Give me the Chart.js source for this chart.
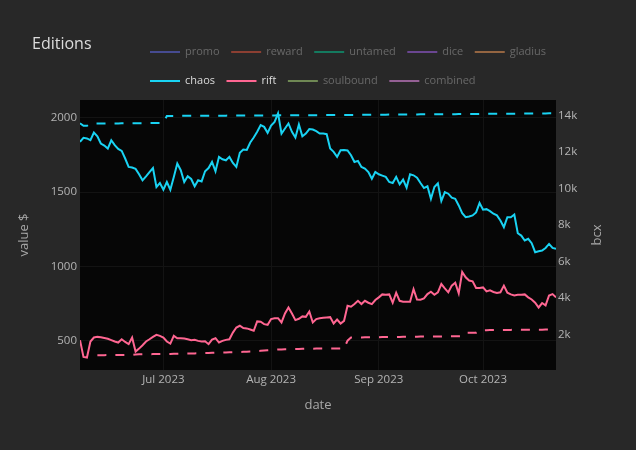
<!DOCTYPE html>
<html>
<head>
<meta charset="utf-8">
<script src="https://cdn.jsdelivr.net/npm/chart.js@4.4.0/dist/chart.umd.min.js"></script>
<style>
  html, body { margin: 0; padding: 0; background: #282828; }
  #wrap { width: 636px; height: 450px; }
</style>
</head>
<body>
<div id="wrap"><canvas id="myChart" width="636" height="450"></canvas></div>
<script>
// daily data, first day 2023-06-07
const startDate = '2023-06-07';

const chaosValue = [
  1838, 1865, 1861, 1849, 1901, 1876, 1827, 1813, 1793, 1849,
  1816, 1791, 1777, 1726, 1669, 1665, 1656, 1620, 1579, 1606,
  1635, 1662, 1534, 1561, 1516, 1568, 1516, 1602, 1692, 1647,
  1568, 1606, 1588, 1539, 1580, 1572, 1640, 1662, 1703, 1640,
  1737, 1721, 1714, 1737, 1696, 1669, 1764, 1786, 1784, 1834,
  1867, 1906, 1951, 1939, 1899, 1948, 1973, 2030, 1894, 1928,
  1962, 1906, 1867, 1955, 1876, 1894, 1924, 1921, 1910, 1894,
  1894, 1890, 1793, 1771, 1737, 1782, 1784, 1780, 1748, 1703,
  1710, 1669, 1658, 1635, 1590, 1635, 1620, 1611, 1602, 1568,
  1561, 1602, 1552, 1584, 1530, 1620, 1613, 1597, 1561, 1527,
  1539, 1455, 1534, 1559, 1440, 1500, 1489, 1462, 1455, 1410,
  1358, 1331, 1336, 1343, 1363, 1426, 1381, 1385, 1372, 1354,
  1343, 1309, 1264, 1331, 1331, 1349, 1223, 1207, 1174, 1185,
  1156, 1095, 1102, 1106, 1124, 1151, 1124, 1118
];

const riftValue = [
  503, 390, 386, 494, 521, 525, 523, 518, 512, 503,
  494, 487, 509, 491, 476, 521, 426, 446, 469, 494,
  509, 525, 539, 532, 521, 494, 480, 532, 516, 516,
  514, 509, 503, 505, 498, 494, 496, 476, 507, 516,
  487, 498, 505, 509, 554, 588, 600, 584, 582, 575,
  566, 629, 627, 611, 606, 645, 651, 651, 622, 683,
  723, 683, 638, 647, 663, 660, 696, 622, 645, 651,
  654, 656, 658, 615, 642, 615, 633, 735, 728, 746,
  768, 746, 768, 755, 746, 773, 791, 811, 809, 811,
  755, 822, 768, 762, 762, 762, 847, 777, 775, 784,
  813, 829, 809, 825, 881, 852, 825, 870, 890, 818,
  962, 926, 904, 899, 854, 854, 858, 831, 838, 827,
  820, 825, 870, 822, 811, 804, 809, 809, 811, 791,
  777, 755, 723, 753, 737, 804, 813, 791
];

const chaosBcx = [
  13580, 13440, 13440,
  13560, 13562, 13564, 13566, 13568, 13570, 13572, 13574, 13576, 13578,
  13580, 13582, 13584, 13586, 13588, 13590, 13592, 13594, 13596, 13598, 13600, 13602,
  13985, 13986, 13987, 13988, 13989, 13990, 13991, 13992, 13993, 13994,
  13995, 13996, 13997, 13998, 13999, 14000, 14001, 14002, 14003, 14004,
  14005, 14006, 14007, 14008, 14009, 14010, 14011, 14012, 14013, 14014,
  14015, 14016, 14017, 14018, 14019, 14020, 14021, 14022, 14023, 14024,
  14025, 14026, 14027, 14028, 14029,
  14030, 14031, 14033, 14034, 14036, 14037, 14039, 14040, 14042, 14043,
  14045, 14046, 14048, 14049, 14051, 14052, 14054, 14055, 14057, 14058,
  14060, 14061, 14063, 14064, 14066, 14067, 14069, 14070, 14071, 14072,
  14073, 14074, 14075, 14076,
  14078, 14080, 14081, 14083, 14084, 14086, 14087, 14089, 14090, 14092,
  14093, 14095, 14096, 14098, 14099, 14101, 14102, 14104, 14105, 14107,
  14108, 14110, 14111, 14113, 14114, 14116, 14117, 14119, 14120, 14122,
  14124, 14126, 14128, 14130
];

const riftBcx = [
  null, null, null, null, null,
  850, 852, 855, 858, 860, 862, 865, 868, 870, 872, 875,
  895, 900, 905, 905, 910, 912, 915, 918, 920, 922,
  925, 930, 935, 938, 940, 942, 945, 950, 960,
  970, 975, 978, 980, 985, 990, 995, 1000, 1010, 1015, 1020,
  1030, 1035, 1040, 1050, 1060, 1075, 1090, 1105, 1120, 1135, 1150,
  1165, 1170, 1175, 1180, 1185, 1190, 1195, 1200, 1205, 1210, 1212, 1214, 1216,
  1216, 1218, 1218, 1220, 1220, 1222, 1222,
  1650, 1820,
  1825, 1828, 1830, 1832, 1835, 1838, 1840, 1842, 1845, 1848,
  1850, 1852, 1855, 1858, 1860, 1862, 1865, 1868, 1870, 1872,
  1874, 1876, 1878, 1880, 1882, 1884, 1886, 1888, 1890, 1892,
  1895, 1898,
  2076, 2080, 2085, 2090,
  2224, 2226, 2228, 2230, 2232, 2234, 2236, 2238, 2240, 2242,
  2244, 2246, 2248, 2250, 2252, 2253, 2254, 2255, 2256, 2258,
  2259, 2260, 2261
];

const tickDates = ['2023-07-01', '2023-08-01', '2023-09-01', '2023-10-01'];
const tickLabels = ['Jul 2023', 'Aug 2023', 'Sep 2023', 'Oct 2023'];
const valueTicks = [500, 1000, 1500, 2000];
const bcxTicks = [2000, 4000, 6000, 8000, 10000, 12000, 14000];

const legendNames = ['promo', 'reward', 'untamed', 'dice', 'gladius', 'chaos', 'rift', 'soulbound', 'combined'];
const legendColors = ['#636efa', '#EF553B', '#00cc96', '#ab63fa', '#FFA15A', '#19d3f3', '#FF6692', '#B6E880', '#FF97FF'];
const shownEditions = ['chaos', 'rift'];

const FONT = '"Open Sans", "Noto Sans", sans-serif';

function dayOf(s) {
  return Math.round((Date.parse(s) - Date.parse(startDate)) / 864e5);
}
function toPoints(arr) {
  return arr.map((v, i) => ({ x: i, y: v }));
}

const decor = {
  id: 'decor',
  beforeDraw(chart) {
    const { ctx, chartArea: a, width, height } = chart;
    ctx.save();
    ctx.fillStyle = '#282828';
    ctx.fillRect(0, 0, width, height);
    ctx.fillStyle = '#060606';
    ctx.fillRect(a.left, a.top, a.right - a.left, a.bottom - a.top);
    ctx.restore();
  },
  afterDraw(chart) {
    const { ctx, chartArea: a } = chart;
    ctx.save();
    ctx.textBaseline = 'middle';
    // title
    ctx.fillStyle = '#dcdcdc';
    ctx.font = '16px ' + FONT;
    ctx.textAlign = 'left';
    ctx.fillText('Editions', 32, 44);

    // legend
    ctx.font = '11px ' + FONT;
    let x = 150, y = 52;
    legendNames.forEach((name, i) => {
      const tw = ctx.measureText(name).width;
      if (x + 35 + tw > 580) { x = 150; y = 81; }
      const on = shownEditions.includes(name);
      ctx.globalAlpha = on ? 1 : 0.5;
      ctx.strokeStyle = legendColors[i];
      ctx.lineWidth = 2;
      ctx.beginPath();
      ctx.moveTo(x, y);
      ctx.lineTo(x + 30, y);
      ctx.stroke();
      ctx.fillStyle = on ? '#dcdcdc' : '#a8a8a8';
      ctx.fillText(name, x + 35, y);
      ctx.globalAlpha = 1;
      x += 35 + tw + 11.5;
    });

    // axis titles
    ctx.fillStyle = '#a8a8a8';
    ctx.font = '13px ' + FONT;
    ctx.textAlign = 'center';
    ctx.fillText('date', (a.left + a.right) / 2, 405);
    ctx.save();
    ctx.translate(24, (a.top + a.bottom) / 2);
    ctx.rotate(-Math.PI / 2);
    ctx.fillText('value $', 0, 0);
    ctx.restore();
    ctx.save();
    ctx.translate(597, (a.top + a.bottom) / 2);
    ctx.rotate(-Math.PI / 2);
    ctx.fillText('bcx', 0, 0);
    ctx.restore();
    ctx.restore();
  }
};

const tickFont = { family: FONT, size: 11.5 };

const config = {
  type: 'line',
  data: {
    datasets: [
      { label: 'chaos', data: toPoints(chaosValue), yAxisID: 'y', borderColor: '#19d3f3', borderWidth: 2 },
      { label: 'chaos bcx', data: toPoints(chaosBcx), yAxisID: 'y1', borderColor: '#19d3f3', borderWidth: 2, borderDash: [9, 9] },
      { label: 'rift', data: toPoints(riftValue), yAxisID: 'y', borderColor: '#FF6692', borderWidth: 2 },
      { label: 'rift bcx', data: toPoints(riftBcx), yAxisID: 'y1', borderColor: '#FF6692', borderWidth: 2, borderDash: [9, 9] }
    ]
  },
  options: {
    animation: false,
    responsive: false,
    events: [],
    layout: { padding: { top: 100, left: 0, right: 0, bottom: 0 } },
    elements: { point: { radius: 0 }, line: { tension: 0 } },
    plugins: {
      legend: { display: false },
      title: { display: false },
      tooltip: { enabled: false }
    },
    scales: {
      x: {
        type: 'linear',
        min: 0,
        max: chaosValue.length - 1,
        afterBuildTicks: s => { s.ticks = tickDates.map(d => ({ value: dayOf(d) })); },
        afterFit: s => { s.height = 80; },
        ticks: {
          color: '#b4b4b4', font: tickFont, padding: 3, maxRotation: 0,
          callback: v => tickLabels[tickDates.findIndex(d => dayOf(d) === v)]
        },
        grid: { color: '#131313', drawTicks: false },
        border: { display: false }
      },
      y: {
        position: 'left',
        min: 302,
        max: 2120,
        afterBuildTicks: s => { s.ticks = valueTicks.map(v => ({ value: v })); },
        afterFit: s => { s.width = 80; },
        ticks: { color: '#b4b4b4', font: tickFont, padding: 3, callback: v => String(v) },
        grid: { color: '#131313', drawTicks: false },
        border: { display: false }
      },
      y1: {
        position: 'right',
        min: 40,
        max: 14860,
        afterBuildTicks: s => { s.ticks = bcxTicks.map(v => ({ value: v })); },
        afterFit: s => { s.width = 80; },
        ticks: { color: '#b4b4b4', font: tickFont, padding: 2, callback: v => (v / 1000) + 'k' },
        grid: { display: false, drawTicks: false },
        border: { display: false }
      }
    }
  },
  plugins: [decor]
};

let myChart = new Chart(document.getElementById('myChart'), config);
</script>
</body>
</html>
